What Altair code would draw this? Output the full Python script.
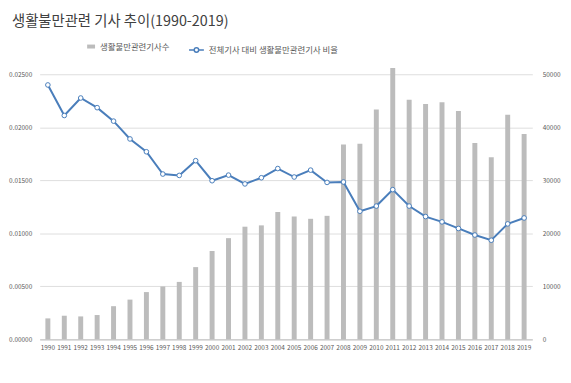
import altair as alt
import pandas as pd

years = [str(y) for y in range(1990, 2020)]
counts = [3960, 4460, 4330, 4590, 6260, 7500, 8920, 9980, 10840, 13630,
          16670, 19090, 21250, 21500, 24040, 23180, 22740, 23300, 36750, 36870,
          43370, 51180, 45170, 44370, 44740, 43070, 37050, 34330, 42380, 38720]
ratios = [0.02399, 0.02111, 0.02276, 0.02185, 0.02058, 0.01890, 0.01769, 0.01559,
          0.01546, 0.01685, 0.01496, 0.01549, 0.01466, 0.01524, 0.01611, 0.01531,
          0.01596, 0.01480, 0.01484, 0.01208, 0.01257, 0.01412, 0.01257, 0.01158,
          0.01108, 0.01046, 0.00984, 0.00935, 0.01089, 0.01145]
left_ticks = [0, 0.005, 0.01, 0.015, 0.02, 0.025]
right_ticks = [0, 10000, 20000, 30000, 40000, 50000]

name_bar = "생활불만관련기사수"
name_line = "전체기사 대비 생활불만관련기사 비율"
title_text = "생활불만관련 기사 추이(1990-2019)"

df = pd.DataFrame({"year": years, "count": counts, "ratio": ratios})
df["s_bar"] = name_bar
df["s_line"] = name_line

FONT = "Noto Sans CJK KR"
GRAY_TXT = "#595959"
BAR_C = "#bcbcbc"
LINE_C = "#4a7ebb"

xenc = alt.X("year:O", title=None,
             scale=alt.Scale(paddingInner=0, paddingOuter=0),
             axis=alt.Axis(labelAngle=0, labelFontSize=6.5, labelColor=GRAY_TXT,
                           labelFont=FONT, ticks=False, domainColor="#bfbfbf",
                           labelPadding=5, labelOverlap=False))

bars = alt.Chart(df).mark_bar(size=5).encode(
    x=xenc,
    y=alt.Y("count:Q", title=None,
            scale=alt.Scale(domain=[0, 50000], nice=False, clamp=False),
            axis=alt.Axis(orient="right", values=right_ticks, format="d",
                          labelFontSize=6.5, labelColor=GRAY_TXT, labelFont=FONT,
                          ticks=False, domain=False, grid=False, labelPadding=10)),
    color=alt.Color("s_bar:N", scale=alt.Scale(domain=[name_bar], range=[BAR_C]),
                    legend=alt.Legend(orient="none", legendX=47, legendY=-33, title=None,
                                      symbolType="M-1,-0.5L1,-0.5L1,0.5L-1,0.5Z",
                                      symbolSize=64, labelFontSize=8.5,
                                      labelColor=GRAY_TXT, labelFont=FONT, padding=0)),
)

yline = alt.Y("ratio:Q", title=None,
              scale=alt.Scale(domain=[0, 0.025], nice=False),
              axis=alt.Axis(orient="left", values=left_ticks, format=".5f",
                            labelFontSize=6.5, labelColor=GRAY_TXT, labelFont=FONT,
                            ticks=False, domain=False, grid=True, gridColor="#dedede",
                            labelPadding=8))

line = alt.Chart(df).mark_line(strokeWidth=2).encode(
    x=alt.X("year:O"),
    y=yline,
    stroke=alt.Stroke("s_line:N", scale=alt.Scale(domain=[name_line], range=[LINE_C]),
                      legend=alt.Legend(orient="none", legendX=150, legendY=-33, title=None,
                                        symbolType="M-1,0L-0.3,0M0.3,0L1,0M-0.3,0A0.3,0.3,0,1,1,0.3,0A0.3,0.3,0,1,1,-0.3,0Z",
                                        symbolSize=225, symbolFillColor="white",
                                        symbolStrokeWidth=1.5,
                                        labelFontSize=8.5, labelColor=GRAY_TXT,
                                        labelFont=FONT, padding=0)),
)

points = alt.Chart(df).mark_point(shape="circle", fill="white", stroke=LINE_C,
                                  strokeWidth=1, size=22, opacity=1, fillOpacity=1).encode(
    x=alt.X("year:O"),
    y=yline,
)

chart = alt.layer(bars, alt.layer(line, points)).resolve_scale(
    y="independent", color="independent", stroke="independent"
).properties(
    width=498, height=268,
    autosize=alt.AutoSizeParams(type="none"),
    padding={"left": 32, "top": 65, "right": 31, "bottom": 30},
    title=alt.TitleParams(title_text, anchor="start", frame="group", fontSize=14.5,
                          font=FONT, fontWeight="normal", color="#404040",
                          dx=-28, offset=12),
).configure_view(stroke=None)

chart.save("out.html", embed_options={"renderer": "svg", "actions": False})
